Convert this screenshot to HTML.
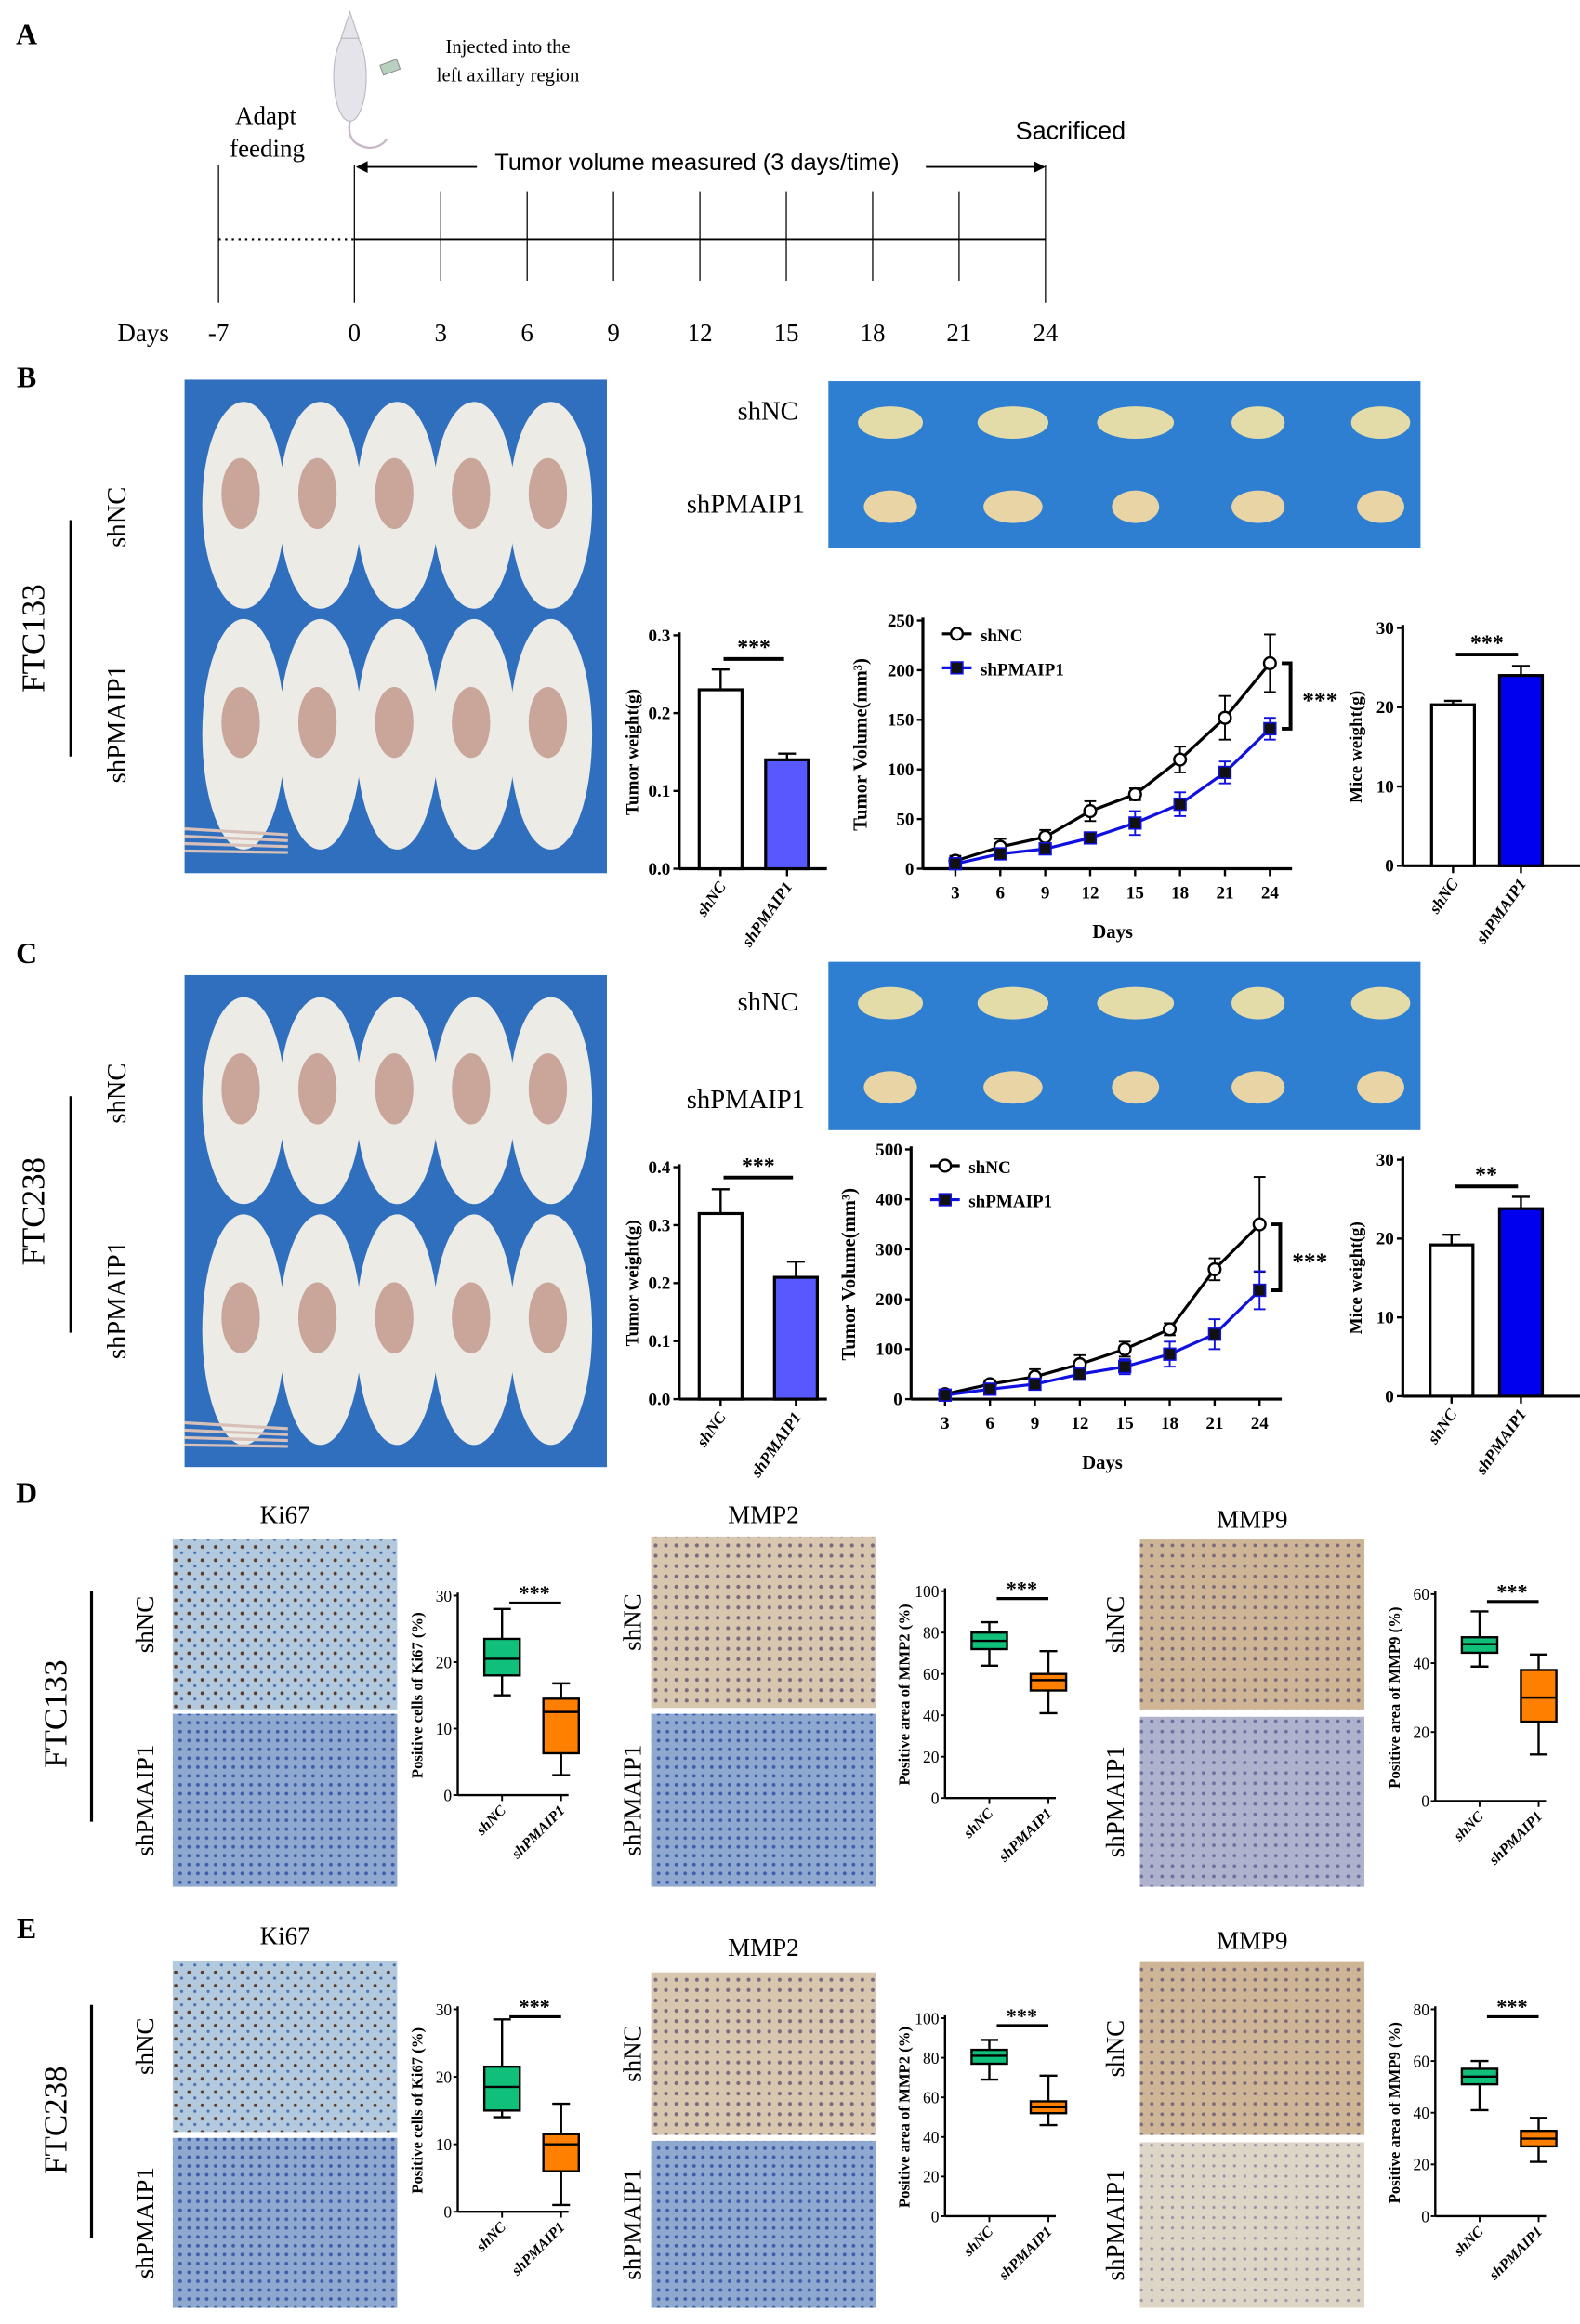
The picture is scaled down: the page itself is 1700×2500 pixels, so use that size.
<!DOCTYPE html>
<html><head><meta charset="utf-8">
<style>
html,body{margin:0;padding:0;background:#fff;}
svg{display:block;}
text{font-family:"Liberation Serif",serif;}
text.sans{font-family:"Liberation Sans",sans-serif;}
</style></head>
<body>
<svg id="fig" xmlns="http://www.w3.org/2000/svg" width="1700" height="2500" viewBox="0 0 1070 1573" preserveAspectRatio="none">
<defs>
<pattern id="dotsBrown" width="9" height="9" patternUnits="userSpaceOnUse"><rect width="9" height="9" fill="#b3c9dd"/><circle cx="2" cy="3" r="1.2" fill="#5a3a2a"/><circle cx="6" cy="7" r="1" fill="#4a6fb0"/></pattern>
<pattern id="dotsBlue" width="6" height="6" patternUnits="userSpaceOnUse"><rect width="6" height="6" fill="#8fa8d0"/><circle cx="2" cy="2" r="1.2" fill="#3d5ea8"/></pattern>
<pattern id="dotsTan" width="7" height="7" patternUnits="userSpaceOnUse"><rect width="7" height="7" fill="#d8c7ae"/><circle cx="3" cy="3" r="1.3" fill="#7a6a80"/></pattern>
<pattern id="dotsTan2" width="7" height="7" patternUnits="userSpaceOnUse"><rect width="7" height="7" fill="#cdb596"/><circle cx="3" cy="3" r="1.2" fill="#7a6a7a"/></pattern>
<pattern id="dotsPale" width="7" height="7" patternUnits="userSpaceOnUse"><rect width="7" height="7" fill="#aeb2cc"/><circle cx="3" cy="3" r="1.2" fill="#6a70a0"/></pattern>
<pattern id="dotsCream" width="7" height="7" patternUnits="userSpaceOnUse"><rect width="7" height="7" fill="#ddd5c6"/><circle cx="3" cy="3" r="1" fill="#9a94a8"/></pattern>
</defs>
</svg>
<script>
// ===== DATA =====
const timelineDays = [-7, 0, 3, 6, 9, 12, 15, 18, 21, 24];
const groups = ["shNC", "shPMAIP1"];
const volDays = [3, 6, 9, 12, 15, 18, 21, 24];
// FTC133
const b_tumorWeight = [0.23, 0.14];
const b_tumorWeightErr = [0.026, 0.008];
const b_tumorWeightTicks = [0.0, 0.1, 0.2, 0.3];
const b_volNC = [8, 22, 32, 58, 75, 110, 152, 207];
const b_volNCErr = [5, 8, 7, 10, 6, 13, 22, 29];
const b_volPM = [5, 15, 20, 31, 46, 65, 97, 141];
const b_volPMErr = [3, 4, 4, 5, 12, 12, 11, 11];
const b_volTicks = [0, 50, 100, 150, 200, 250];
const b_miceWeight = [20.3, 24.0];
const b_miceWeightErr = [0.5, 1.2];
const b_miceTicks = [0, 10, 20, 30];
// FTC238
const c_tumorWeight = [0.32, 0.21];
const c_tumorWeightErr = [0.042, 0.027];
const c_tumorWeightTicks = [0.0, 0.1, 0.2, 0.3, 0.4];
const c_volNC = [10, 30, 45, 70, 100, 140, 260, 350];
const c_volNCErr = [5, 8, 15, 18, 15, 12, 22, 95];
const c_volPM = [8, 20, 30, 50, 65, 90, 130, 218];
const c_volPMErr = [3, 5, 8, 10, 15, 25, 30, 38];
const c_volTicks = [0, 100, 200, 300, 400, 500];
const c_miceWeight = [19.2, 23.8];
const c_miceWeightErr = [1.3, 1.5];
const c_miceTicks = [0, 10, 20, 30];
// Box plots [min,q1,median,q3,max]
const d_ki67 = [[15, 18, 20.5, 23.5, 28], [3, 6.3, 12.5, 14.5, 16.8]];
const d_mmp2 = [[64, 72, 76, 80, 85], [41, 52, 57, 60, 71]];
const d_mmp9 = [[39, 43, 45.5, 47.5, 55], [13.5, 23, 30, 38, 42.5]];
const e_ki67 = [[14, 15, 18.5, 21.5, 28.5], [1, 6, 10, 11.5, 16]];
const e_mmp2 = [[69, 77, 81, 84, 89], [46, 52, 55, 58, 71]];
const e_mmp9 = [[41, 51, 54, 57, 60], [21, 27, 30, 33, 38]];
const ki67Ticks = [0, 10, 20, 30];
const mmp2Ticks = [0, 20, 40, 60, 80, 100];
const mmp9TicksD = [0, 20, 40, 60];
const mmp9TicksE = [0, 20, 40, 60, 80];

// ===== HELPERS =====
const NS = "http://www.w3.org/2000/svg";
const svg = document.getElementById("fig");
function mk(tag, attrs, name, parent) {
  const el = document.createElementNS(NS, tag);
  for (const k in attrs) el.setAttribute(k, attrs[k]);
  
  
  (parent || svg).appendChild(el);
  return el;
}
function txt(x, y, s, name, opts) {
  opts = opts || {};
  const a = {x: x, y: y, "font-size": opts.size || 14, "text-anchor": opts.anchor || "middle", fill: opts.fill || "#000"};
  if (opts.bold) a["font-weight"] = "bold";
  if (opts.italic) a["font-style"] = "italic";
  if (opts.sans) a["class"] = "sans";
  if (opts.rot !== undefined) a.transform = "rotate(" + opts.rot + " " + x + " " + y + ")";
  const t = mk("text", a, name);
  t.textContent = s;
  return t;
}
function line(x1, y1, x2, y2, name, w, col, dash) {
  const a = {x1: x1, y1: y1, x2: x2, y2: y2, stroke: col || "#000", "stroke-width": w || 1};
  if (dash) a["stroke-dasharray"] = dash;
  return mk("line", a, name);
}
function linScale(d0, d1, r0, r1) { return v => r0 + (v - d0) / (d1 - d0) * (r1 - r0); }

// ===== PANEL A: timeline =====
txt(18, 30, "A", "panel-label-a", {size: 20, bold: true});
const tx = linScale(0, 24, 240, 708);
line(148, 162, 240, 162, "adapt-dotted-line", 1.3, "#000", "1.5,3");
line(240, 162, 708, 162, "timeline-axis", 1.2);
timelineDays.forEach(d => {
  const x = d < 0 ? 148 : tx(d);
  const big = (d === -7 || d === 0 || d === 24);
  line(x, big ? 112 : 130, x, big ? 205 : 190, "timeline-tick-" + d, 0.8);
  txt(x, 231, String(d), "timeline-day-label", {size: 17});
});
txt(97, 231, "Days", "timeline-days-title", {size: 17});
txt(180, 84, "Adapt", "adapt-label", {size: 17});
txt(181, 106, "feeding", "feeding-label", {size: 17});
txt(725, 94, "Sacrificed", "sacrificed-label", {size: 17, sans: true});
line(245, 113, 323, 113, "measure-arrow-left", 1.2);
line(627, 113, 703, 113, "measure-arrow-right", 1.2);
mk("path", {d: "M241 113 L249 109 L249 117 Z", fill: "#000"}, "arrowhead-left");
mk("path", {d: "M708 113 L700 109 L700 117 Z", fill: "#000"}, "arrowhead-right");
txt(472, 115, "Tumor volume measured (3 days/time)", "measure-label", {size: 16, sans: true});
txt(344, 36, "Injected into the", "injection-label-1", {size: 13});
txt(344, 55, "left axillary region", "injection-label-2", {size: 13});
mk("ellipse", {cx: 237, cy: 52, rx: 11, ry: 30, fill: "#e4e4ea", stroke: "#b8b8c4", "stroke-width": 0.7}, "mouse-icon-body");
mk("path", {d: "M237 8 L231 26 L243 26 Z", fill: "#e4e4ea", stroke: "#b8b8c4", "stroke-width": 0.7}, "mouse-icon-head");
mk("path", {d: "M237 82 Q234 98 250 100 Q258 100 262 94", fill: "none", stroke: "#c8b8c8", "stroke-width": 1.5}, "mouse-icon-tail");
mk("rect", {x: 258, y: 42, width: 12, height: 7, fill: "#b8d0c0", stroke: "#888", "stroke-width": 0.6, transform: "rotate(-20 264 45)"}, "syringe-icon");

// ===== Photos =====
function mousePhoto(x, y, w, h, prefix) {
  mk("rect", {x: x, y: y, width: w, height: h, fill: "#2f6fbe"}, prefix + "-background");
  for (let r = 0; r < 2; r++) {
    for (let i = 0; i < 5; i++) {
      const cx = x + 40 + i * 52, cy = y + (r === 0 ? 85 : 240);
      mk("ellipse", {cx: cx, cy: cy, rx: 28, ry: r === 0 ? 70 : 78, fill: "#ecebe6"}, prefix + "-mouse");
      mk("ellipse", {cx: cx - 2, cy: cy - 8, rx: 13, ry: 24, fill: "#c9a59a"}, prefix + "-tumor-site");
    }
  }
  for (let i = 0; i < 4; i++) line(x, y + h - 30 + i * 5, x + 70, y + h - 26 + i * 4, prefix + "-tail", 2, "#d8c0b8");
}
function tumorPhoto(x, y, w, h, prefix) {
  mk("rect", {x: x, y: y, width: w, height: h, fill: "#2e7fd2"}, prefix + "-background");
  const rxs = [[22, 24, 26, 18, 20], [18, 20, 16, 18, 16]];
  for (let r = 0; r < 2; r++) for (let i = 0; i < 5; i++) {
    mk("ellipse", {cx: x + 42 + i * 83, cy: y + (r === 0 ? 28 : 85), rx: rxs[r][i], ry: 11, fill: r === 0 ? "#e4dca8" : "#e8d4a4"}, prefix + "-tumor");
  }
}
function ihc(x, y, w, h, pat, name) {
  mk("rect", {x: x, y: y, width: w, height: h, fill: "url(#" + pat + ")"}, name);
}

// ===== Bar chart =====
function barChart(o) {
  const ys = linScale(0, o.ticks[o.ticks.length - 1], o.y0, o.y1);
  line(o.ax, o.y1 - 2, o.ax, o.y0, o.p + "-y-axis", 2);
  line(o.ax, o.y0, o.ax + o.xlen, o.y0, o.p + "-x-axis", 2);
  o.ticks.forEach(t => {
    line(o.ax - 4, ys(t), o.ax, ys(t), o.p + "-y-tick", 1.5);
    txt(o.ax - 6, ys(t) + 4, o.fmt(t), o.p + "-y-tick-label", {size: 12, anchor: "end", bold: true});
  });
  o.vals.forEach((v, i) => {
    const cx = o.cx[i];
    line(cx, ys(v), cx, ys(v + o.err[i]), o.p + "-error-bar", 1.5);
    line(cx - 6, ys(v + o.err[i]), cx + 6, ys(v + o.err[i]), o.p + "-error-cap", 1.5);
    mk("rect", {x: cx - o.bw / 2, y: ys(v), width: o.bw, height: o.y0 - ys(v), fill: o.fills[i], stroke: "#000", "stroke-width": 2}, o.p + "-bar-" + groups[i]);
    line(cx, o.y0, cx, o.y0 + 5, o.p + "-x-tick", 1.5);
    txt(cx + 4, o.y0 + 12, groups[i], o.p + "-x-label", {size: 11, bold: true, italic: true, anchor: "end", rot: -55});
  });
  line(o.cx[0] + 2, o.sigY, o.cx[1] - 2, o.sigY, o.p + "-sig-line", 2.5);
  txt((o.cx[0] + o.cx[1]) / 2, o.sigY - 3, o.sig, o.p + "-sig-stars", {size: 15, bold: true});
  txt(o.ax - 28, (o.y0 + o.y1) / 2, o.label, o.p + "-y-title", {size: 12, bold: true, rot: -90});
}

// ===== Line chart =====
function lineChart(o) {
  const ys = linScale(0, o.ticks[o.ticks.length - 1], o.y0, o.y1);
  const xs = linScale(3, 24, o.x3, o.x24);
  line(o.ax, o.y1 - 2, o.ax, o.y0, o.p + "-y-axis", 2);
  line(o.ax, o.y0, o.x24 + 15, o.y0, o.p + "-x-axis", 2);
  o.ticks.forEach(t => {
    line(o.ax - 4, ys(t), o.ax, ys(t), o.p + "-y-tick", 1.5);
    txt(o.ax - 6, ys(t) + 4, String(t), o.p + "-y-tick-label", {size: 12, anchor: "end", bold: true});
  });
  volDays.forEach(d => {
    line(xs(d), o.y0, xs(d), o.y0 + 5, o.p + "-x-tick", 1.5);
    txt(xs(d), o.y0 + 20, String(d), o.p + "-x-tick-label", {size: 12, bold: true});
  });
  txt((o.x3 + o.x24) / 2, o.y0 + 47, "Days", o.p + "-x-title", {size: 13, bold: true});
  txt(o.ax - 38, (o.y0 + o.y1) / 2, "Tumor Volume(mm³)", o.p + "-y-title", {size: 13, bold: true, rot: -90});
  const series = [[o.nc, o.ncErr, "#000", "circle", "shNC"], [o.pm, o.pmErr, "#1010e0", "square", "shPMAIP1"]];
  series.forEach(s => {
    const pts = s[0].map((v, i) => xs(volDays[i]) + "," + ys(v)).join(" ");
    mk("polyline", {points: pts, fill: "none", stroke: s[2], "stroke-width": 2}, o.p + "-line-" + s[4]);
    s[0].forEach((v, i) => {
      const x = xs(volDays[i]);
      line(x, ys(v - s[1][i]), x, ys(v + s[1][i]), o.p + "-error-" + s[4], 1.2, s[2]);
      line(x - 4, ys(v + s[1][i]), x + 4, ys(v + s[1][i]), o.p + "-error-cap-" + s[4], 1.2, s[2]);
      line(x - 4, ys(v - s[1][i]), x + 4, ys(v - s[1][i]), o.p + "-error-cap-" + s[4], 1.2, s[2]);
      if (s[3] === "circle") mk("circle", {cx: x, cy: ys(v), r: 4, fill: "#fff", stroke: "#000", "stroke-width": 1.5}, o.p + "-point-shNC");
      else mk("rect", {x: x - 4, y: ys(v) - 4, width: 8, height: 8, fill: "#111", stroke: "#1010e0", "stroke-width": 1}, o.p + "-point-shPMAIP1");
    });
  });
  line(o.lx, o.ly, o.lx + 20, o.ly, o.p + "-legend-line-shNC", 2);
  mk("circle", {cx: o.lx + 10, cy: o.ly, r: 4, fill: "#fff", stroke: "#000", "stroke-width": 1.5}, o.p + "-legend-marker-shNC");
  txt(o.lx + 26, o.ly + 5, "shNC", o.p + "-legend-label-shNC", {size: 12, bold: true, anchor: "start"});
  line(o.lx, o.ly + 23, o.lx + 20, o.ly + 23, o.p + "-legend-line-shPMAIP1", 2, "#1010e0");
  mk("rect", {x: o.lx + 6, y: o.ly + 19, width: 8, height: 8, fill: "#111", stroke: "#1010e0"}, o.p + "-legend-marker-shPMAIP1");
  txt(o.lx + 26, o.ly + 28, "shPMAIP1", o.p + "-legend-label-shPMAIP1", {size: 12, bold: true, anchor: "start"});
  const yt = ys(o.nc[7]), yb = ys(o.pm[7]), bx = o.x24 + 14;
  mk("path", {d: "M" + (bx - 6) + " " + yt + " L" + bx + " " + yt + " L" + bx + " " + yb + " L" + (bx - 6) + " " + yb, fill: "none", stroke: "#000", "stroke-width": 2.5}, o.p + "-sig-bracket");
  txt(bx + 20, (yt + yb) / 2 + 8, "***", o.p + "-sig-stars", {size: 16, bold: true});
}

// ===== Box plot =====
function boxPlot(o) {
  const ys = linScale(0, o.ticks[o.ticks.length - 1], o.y0, o.y1);
  line(o.ax, o.y1 - 2, o.ax, o.y0, o.p + "-y-axis", 1.5);
  line(o.ax, o.y0, o.ax + 75, o.y0, o.p + "-x-axis", 1.5);
  o.ticks.forEach(t => {
    line(o.ax - 3, ys(t), o.ax, ys(t), o.p + "-y-tick", 1.2);
    txt(o.ax - 4, ys(t) + 4, String(t), o.p + "-y-tick-label", {size: 11, anchor: "end"});
  });
  const fills = ["#10c07a", "#ff8000"];
  o.data.forEach((d, i) => {
    const cx = o.ax + 30 + i * 40, hw = 12;
    line(cx, ys(d[0]), cx, ys(d[4]), o.p + "-whisker-" + groups[i], 1.5);
    line(cx - 6, ys(d[0]), cx + 6, ys(d[0]), o.p + "-whisker-min", 1.5);
    line(cx - 6, ys(d[4]), cx + 6, ys(d[4]), o.p + "-whisker-max", 1.5);
    mk("rect", {x: cx - hw, y: ys(d[3]), width: 2 * hw, height: ys(d[1]) - ys(d[3]), fill: fills[i], stroke: "#000", "stroke-width": 1.5}, o.p + "-box-" + groups[i]);
    line(cx - hw, ys(d[2]), cx + hw, ys(d[2]), o.p + "-median-" + groups[i], 1.5);
    line(cx, o.y0, cx, o.y0 + 4, o.p + "-x-tick", 1.2);
    txt(cx + 3, o.y0 + 11, groups[i], o.p + "-x-label", {size: 10, bold: true, italic: true, anchor: "end", rot: -45});
  });
  const sy = o.y1 + 5;
  line(o.ax + 35, sy, o.ax + 70, sy, o.p + "-sig-line", 2);
  txt(o.ax + 52, sy - 2, "***", o.p + "-sig-stars", {size: 14, bold: true});
  txt(o.ax - 24, (o.y0 + o.y1) / 2, o.label, o.p + "-y-title", {size: 10.5, bold: true, rot: -90});
}

// ===== PANEL B =====
txt(18, 262, "B", "panel-label-b", {size: 20, bold: true});
mousePhoto(125, 257, 286, 334, "b-mice-photo");
txt(30, 432, "FTC133", "b-cell-line-label", {size: 22, rot: -90});
line(48, 352, 48, 512, "b-cell-line-bar", 2);
txt(85, 350, "shNC", "b-shnc-row-label", {size: 18, rot: -90});
txt(85, 490, "shPMAIP1", "b-shpmaip1-row-label", {size: 18, rot: -90});
tumorPhoto(561, 258, 401, 113, "b-tumor-photo");
txt(520, 284, "shNC", "b-tumor-shnc-label", {size: 18});
txt(505, 347, "shPMAIP1", "b-tumor-shpmaip1-label", {size: 18});
barChart({p: "b-tumor-weight", ax: 460, y0: 588, y1: 430, ticks: b_tumorWeightTicks, vals: b_tumorWeight, err: b_tumorWeightErr, cx: [488, 533], bw: 29, fills: ["#fff", "#5858ff"], xlen: 100, sigY: 446, sig: "***", label: "Tumor weight(g)", fmt: t => t.toFixed(1)});
lineChart({p: "b-tumor-volume", ax: 625, y0: 588, y1: 420, x3: 647, x24: 860, ticks: b_volTicks, nc: b_volNC, ncErr: b_volNCErr, pm: b_volPM, pmErr: b_volPMErr, lx: 638, ly: 429});
barChart({p: "b-mice-weight", ax: 950, y0: 586, y1: 425, ticks: b_miceTicks, vals: b_miceWeight, err: b_miceWeightErr, cx: [984, 1030], bw: 29, fills: ["#fff", "#0000ee"], xlen: 120, sigY: 443, sig: "***", label: "Mice weight(g)", fmt: t => String(t)});

// ===== PANEL C =====
txt(18, 652, "C", "panel-label-c", {size: 20, bold: true});
mousePhoto(125, 660, 286, 333, "c-mice-photo");
txt(30, 820, "FTC238", "c-cell-line-label", {size: 22, rot: -90});
line(48, 742, 48, 902, "c-cell-line-bar", 2);
txt(85, 740, "shNC", "c-shnc-row-label", {size: 18, rot: -90});
txt(85, 880, "shPMAIP1", "c-shpmaip1-row-label", {size: 18, rot: -90});
tumorPhoto(561, 651, 401, 114, "c-tumor-photo");
txt(520, 684, "shNC", "c-tumor-shnc-label", {size: 18});
txt(505, 750, "shPMAIP1", "c-tumor-shpmaip1-label", {size: 18});
barChart({p: "c-tumor-weight", ax: 460, y0: 947, y1: 790, ticks: c_tumorWeightTicks, vals: c_tumorWeight, err: c_tumorWeightErr, cx: [488, 539], bw: 29, fills: ["#fff", "#5858ff"], xlen: 100, sigY: 797, sig: "***", label: "Tumor weight(g)", fmt: t => t.toFixed(1)});
lineChart({p: "c-tumor-volume", ax: 617, y0: 947, y1: 778, x3: 640, x24: 853, ticks: c_volTicks, nc: c_volNC, ncErr: c_volNCErr, pm: c_volPM, pmErr: c_volPMErr, lx: 630, ly: 789});
barChart({p: "c-mice-weight", ax: 950, y0: 945, y1: 785, ticks: c_miceTicks, vals: c_miceWeight, err: c_miceWeightErr, cx: [983, 1030], bw: 29, fills: ["#fff", "#0000ee"], xlen: 120, sigY: 803, sig: "**", label: "Mice weight(g)", fmt: t => String(t)});

// ===== PANEL D =====
txt(18, 1017, "D", "panel-label-d", {size: 20, bold: true});
txt(45, 1160, "FTC133", "d-cell-line-label", {size: 22, rot: -90});
line(62, 1077, 62, 1233, "d-cell-line-bar", 2);
function ihcPanel(p, x, titleY, title, y1, y2, h1, h2, patA, patB, labX) {
  txt(x + 76, titleY, title, p + "-title", {size: 17});
  ihc(x, y1, 152, h1, patA, p + "-shnc-image");
  ihc(x, y2, 152, h2, patB, p + "-shpmaip1-image");
  txt(labX, y1 + h1 / 2, "shNC", p + "-shnc-label", {size: 17, rot: -90});
  txt(labX, y2 + h2 / 2, "shPMAIP1", p + "-shpmaip1-label", {size: 17, rot: -90});
}
ihcPanel("d-ki67", 117, 1031, "Ki67", 1042, 1160, 115, 117, "dotsBrown", "dotsBlue", 104);
ihcPanel("d-mmp2", 441, 1031, "MMP2", 1040, 1160, 116, 117, "dotsTan", "dotsBlue", 434);
ihcPanel("d-mmp9", 772, 1034, "MMP9", 1042, 1162, 115, 115, "dotsTan2", "dotsPale", 761);
boxPlot({p: "d-ki67-box", ax: 310, y0: 1215, y1: 1080, ticks: ki67Ticks, data: d_ki67, label: "Positive cells of Ki67 (%)"});
boxPlot({p: "d-mmp2-box", ax: 640, y0: 1217, y1: 1077, ticks: mmp2Ticks, data: d_mmp2, label: "Positive area of MMP2 (%)"});
boxPlot({p: "d-mmp9-box", ax: 972, y0: 1219, y1: 1079, ticks: mmp9TicksD, data: d_mmp9, label: "Positive area of MMP9 (%)"});

// ===== PANEL E =====
txt(18, 1312, "E", "panel-label-e", {size: 20, bold: true});
txt(45, 1435, "FTC238", "e-cell-line-label", {size: 22, rot: -90});
line(62, 1357, 62, 1515, "e-cell-line-bar", 2);
ihcPanel("e-ki67", 117, 1316, "Ki67", 1327, 1447, 116, 115, "dotsBrown", "dotsBlue", 104);
ihcPanel("e-mmp2", 441, 1324, "MMP2", 1335, 1449, 110, 113, "dotsTan", "dotsBlue", 434);
ihcPanel("e-mmp9", 772, 1319, "MMP9", 1328, 1450, 117, 112, "dotsTan2", "dotsCream", 761);
boxPlot({p: "e-ki67-box", ax: 310, y0: 1497, y1: 1360, ticks: ki67Ticks, data: e_ki67, label: "Positive cells of Ki67 (%)"});
boxPlot({p: "e-mmp2-box", ax: 640, y0: 1500, y1: 1366, ticks: mmp2Ticks, data: e_mmp2, label: "Positive area of MMP2 (%)"});
boxPlot({p: "e-mmp9-box", ax: 972, y0: 1500, y1: 1360, ticks: mmp9TicksE, data: e_mmp9, label: "Positive area of MMP9 (%)"});
</script>
</body></html>
